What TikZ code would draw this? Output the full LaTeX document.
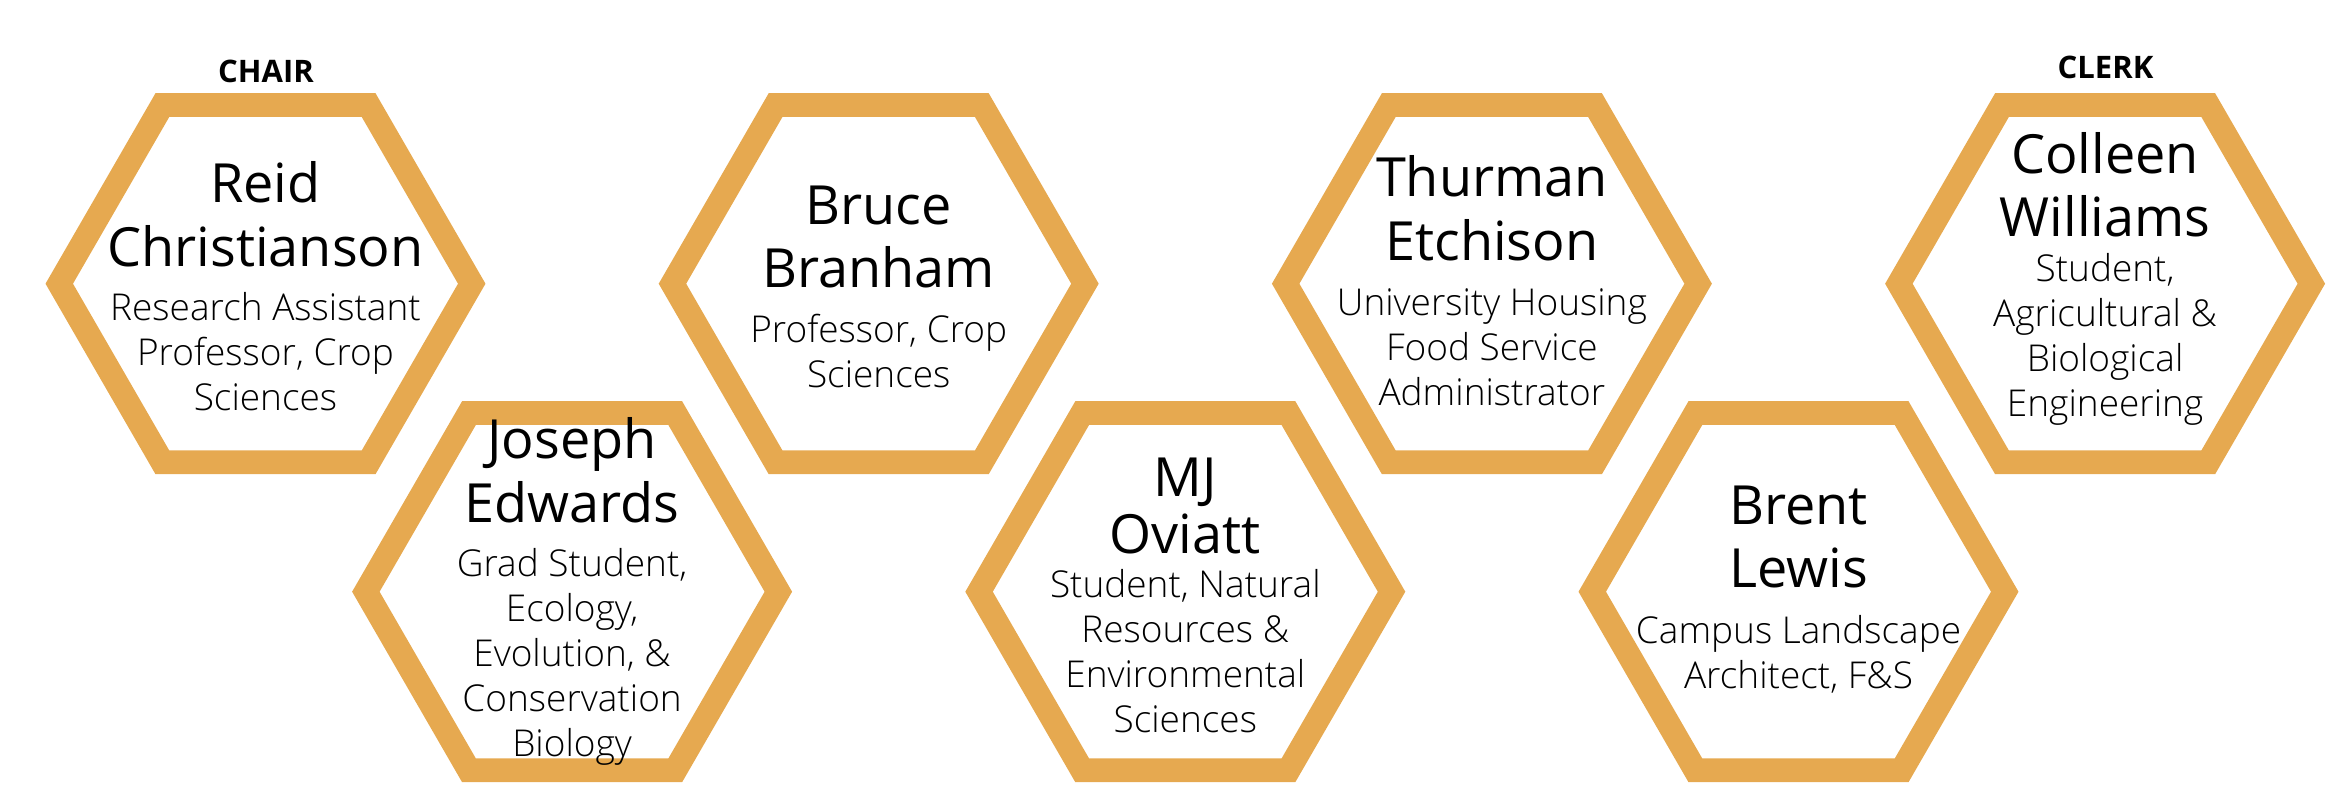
\documentclass[tikz,border=0pt]{standalone}
\usepackage{fontspec}
\setmainfont{Open Sans}
\newfontfamily\lightfont{Open Sans Light}
\definecolor{hexgold}{HTML}{E6A950}
\tikzset{
  cell/.style={draw=hexgold,line width=23.8pt,line join=miter},
  person/.style={font=\fontsize{54}{63.5}\selectfont,align=center,anchor=base},
  role/.style={font=\lightfont\fontsize{37}{45}\selectfont,align=center,anchor=base},
  office/.style={font=\bfseries\fontsize{31}{36}\selectfont,anchor=base},
}
\begin{document}
\begin{tikzpicture}[x=1pt,y=-1pt]
	\useasboundingbox (0,0) rectangle (2329,796);
	% the seven cells, alternating top and bottom row
	\foreach \c/\x/\y in {reid/265.5/283.7,joseph/572.1/591.7,bruce/878.7/283.7,mj/1185.3/591.7,
		thurman/1491.9/283.7,brent/1798.5/591.7,colleen/2105.1/283.7}{
		\coordinate (\c) at (\x,\y);
		\draw[cell] (\c) +(0:206.25) -- +(60:206.25) -- +(120:206.25) -- +(180:206.25)
			-- +(240:206.25) -- +(300:206.25) -- cycle;
	}
	\node[office] (chair) at (266,82.3) {CHAIR};
	\node[office] (clerk) at (2105.5,78) {CLERK};
	% names and roles (placed at the baseline of their last line)
	\node[person] (reidname) at (265.5,266) {Reid\\Christianson};
	\node[role] (reidrole) at (265.5,410) {Research Assistant\\Professor, Crop\\Sciences};
	\node[person] (josephname) at (572.1,522.3) {Joseph\\Edwards};
	\node[role] (josephrole) at (572.1,756) {Grad Student,\\Ecology,\\Evolution, \&\\Conservation\\Biology};
	\node[person] (brucename) at (878.7,287.7) {Bruce\\Branham};
	\node[role] (brucerole) at (878.7,387.7) {Professor, Crop\\Sciences};
	\node[person] (mjname) at (1185.3,553.3) {MJ\\[-6.8pt]Oviatt};
	\node[role] (mjrole) at (1185.3,732.3) {Student, Natural\\Resources \&\\Environmental\\Sciences};
	\node[person] (thurmanname) at (1491.9,260) {Thurman\\Etchison};
	\node[role] (thurmanrole) at (1491.9,405) {University Housing\\Food Service\\Administrator};
	\node[person] (brentname) at (1798.5,587.7) {Brent\\Lewis};
	\node[role] (brentrole) at (1798.5,688.3) {Campus Landscape\\Architect, F\&S};
	\node[person] (colleenname) at (2105.1,236.7) {Colleen\\Williams};
	\node[role] (colleenrole) at (2105.1,416) {Student,\\Agricultural \&\\Biological\\Engineering};
\end{tikzpicture}
\end{document}
